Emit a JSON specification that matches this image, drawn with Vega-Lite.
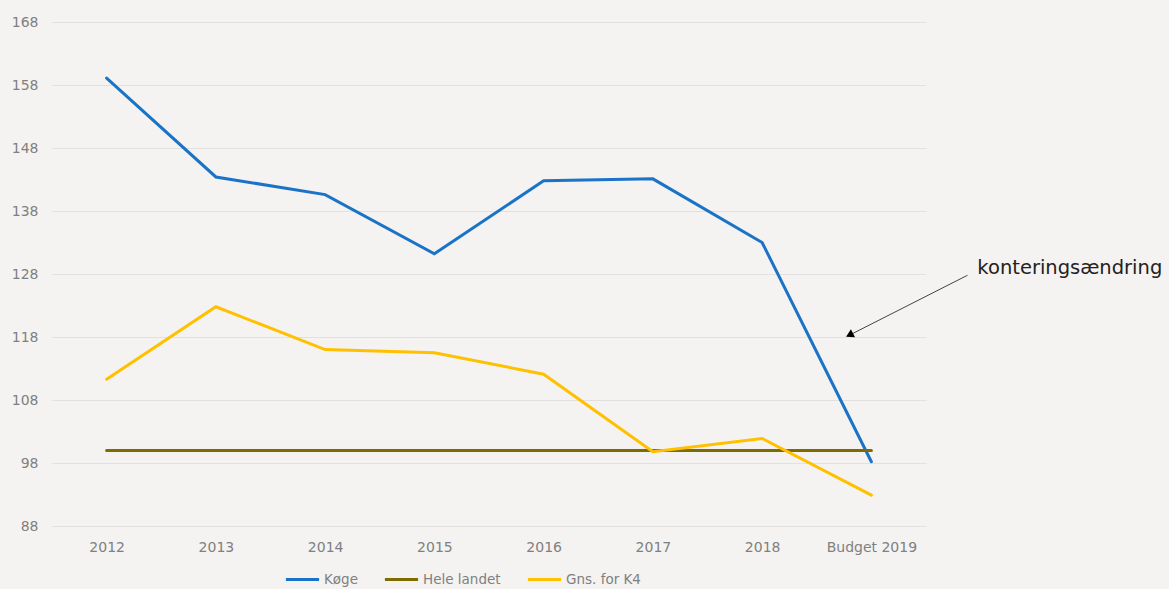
{
  "$schema": "https://vega.github.io/schema/vega-lite/v6.json",
  "width": 874,
  "height": 504,
  "autosize": "none",
  "padding": {"left": 52, "top": 22, "right": 243, "bottom": 63},
  "background": "#f4f3f1",
  "config": {
    "view": {"stroke": null},
    "font": "DejaVu Sans"
  },
  "datasets": {
    "series": [
      {"year": "2012", "serie": "Køge", "value": 159.1},
      {"year": "2013", "serie": "Køge", "value": 143.4},
      {"year": "2014", "serie": "Køge", "value": 140.6},
      {"year": "2015", "serie": "Køge", "value": 131.2},
      {"year": "2016", "serie": "Køge", "value": 142.8},
      {"year": "2017", "serie": "Køge", "value": 143.1},
      {"year": "2018", "serie": "Køge", "value": 133.0},
      {"year": "Budget 2019", "serie": "Køge", "value": 98.2},
      {"year": "2012", "serie": "Hele landet", "value": 100},
      {"year": "2013", "serie": "Hele landet", "value": 100},
      {"year": "2014", "serie": "Hele landet", "value": 100},
      {"year": "2015", "serie": "Hele landet", "value": 100},
      {"year": "2016", "serie": "Hele landet", "value": 100},
      {"year": "2017", "serie": "Hele landet", "value": 100},
      {"year": "2018", "serie": "Hele landet", "value": 100},
      {"year": "Budget 2019", "serie": "Hele landet", "value": 100},
      {"year": "2012", "serie": "Gns. for K4", "value": 111.3},
      {"year": "2013", "serie": "Gns. for K4", "value": 122.8},
      {"year": "2014", "serie": "Gns. for K4", "value": 116.0},
      {"year": "2015", "serie": "Gns. for K4", "value": 115.5},
      {"year": "2016", "serie": "Gns. for K4", "value": 112.1},
      {"year": "2017", "serie": "Gns. for K4", "value": 99.8},
      {"year": "2018", "serie": "Gns. for K4", "value": 101.9},
      {"year": "Budget 2019", "serie": "Gns. for K4", "value": 92.9}
    ],
    "note": [
      {"x": 7.88, "y": 127.8, "x2": 6.8, "y2": 118.3, "tx": 7.97, "ty": 129.0, "label": "konteringsændring"}
    ]
  },
  "layer": [
    {
      "data": {"name": "series"},
      "mark": {"type": "line", "strokeWidth": 3, "strokeCap": "round"},
      "encoding": {
        "x": {
          "field": "year",
          "type": "ordinal",
          "sort": null,
          "scale": {"type": "point", "padding": 0.5},
          "axis": {
            "title": null,
            "labelAngle": 0,
            "ticks": false,
            "domain": false,
            "grid": false,
            "labelColor": "#808080",
            "labelFontSize": 14,
            "labelPadding": 14
          }
        },
        "y": {
          "field": "value",
          "type": "quantitative",
          "scale": {"domain": [88, 168], "nice": false, "zero": false},
          "axis": {
            "title": null,
            "values": [88, 98, 108, 118, 128, 138, 148, 158, 168],
            "ticks": false,
            "domain": false,
            "gridColor": "#e3e1df",
            "gridWidth": 1,
            "labelColor": "#808080",
            "labelFontSize": 14,
            "labelPadding": 14
          }
        },
        "color": {
          "field": "serie",
          "type": "nominal",
          "sort": ["Køge", "Hele landet", "Gns. for K4"],
          "scale": {
            "domain": ["Køge", "Hele landet", "Gns. for K4"],
            "range": ["#1a73c6", "#7f6c00", "#ffc000"]
          },
          "legend": {
            "title": null,
            "orient": "none",
            "direction": "horizontal",
            "legendX": 232,
            "legendY": 539,
            "symbolType": "stroke",
            "symbolStrokeWidth": 3,
            "symbolSize": 1100,
            "labelColor": "#808080",
            "labelFontSize": 13.5,
            "labelOffset": 3,
            "columnPadding": 20,
            "labelBaseline": "middle",
            "padding": 0
          }
        }
      }
    },
    {
      "data": {"name": "note"},
      "mark": {"type": "rule", "color": "#444444", "strokeWidth": 1},
      "encoding": {
        "x": {"field": "x", "type": "quantitative", "scale": {"domain": [-0.5, 7.5], "nice": false, "zero": false}, "axis": null},
        "y": {"field": "y", "type": "quantitative"},
        "x2": {"field": "x2"},
        "y2": {"field": "y2"}
      }
    },
    {
      "data": {"name": "note"},
      "mark": {"type": "point", "shape": "triangle-up", "filled": true, "color": "#000000", "size": 80, "angle": 243, "opacity": 1},
      "encoding": {
        "x": {"field": "x2", "type": "quantitative", "scale": {"domain": [-0.5, 7.5], "nice": false, "zero": false}, "axis": null},
        "y": {"field": "y2", "type": "quantitative"}
      }
    },
    {
      "data": {"name": "note"},
      "mark": {"type": "text", "align": "left", "baseline": "middle", "fontSize": 19.5, "color": "#222222", "font": "DejaVu Sans"},
      "encoding": {
        "x": {"field": "tx", "type": "quantitative", "scale": {"domain": [-0.5, 7.5], "nice": false, "zero": false}, "axis": null},
        "y": {"field": "ty", "type": "quantitative"},
        "text": {"field": "label"}
      }
    }
  ],
  "resolve": {"scale": {"x": "independent"}}
}
